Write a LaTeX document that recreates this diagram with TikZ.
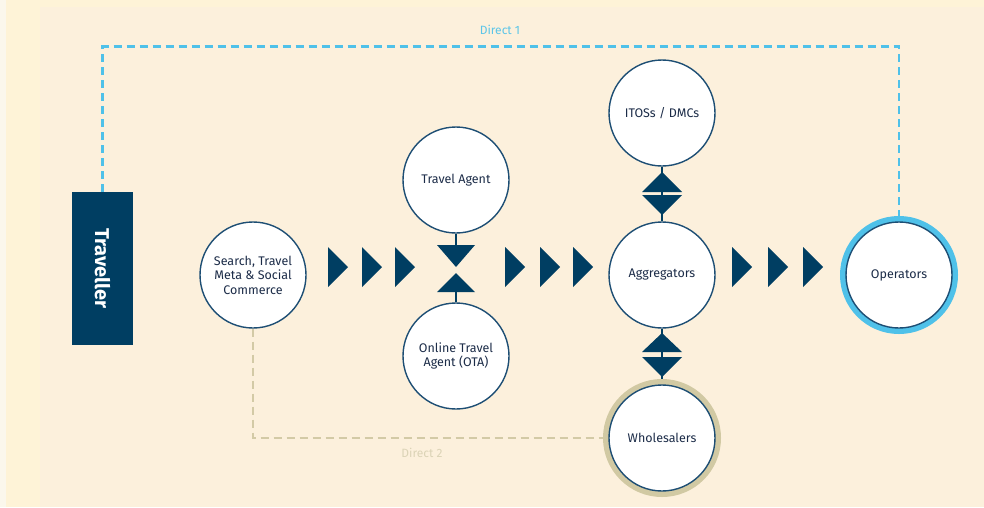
\documentclass[tikz,border=0pt]{standalone}
\usepackage{fontspec}
\setmainfont{Fira Sans}
\usepackage{xcolor}
\usetikzlibrary{positioning}
\usetikzlibrary{arrows,calc}

\definecolor{navy}{HTML}{003E62}
\definecolor{rim}{HTML}{1D4E74}
\definecolor{inktext}{HTML}{1C2C48}
\definecolor{skyline}{HTML}{4FC1E9}
\definecolor{skytext}{HTML}{5BC5E8}
\definecolor{khaki}{HTML}{D1C9A3}
\definecolor{khakiline}{HTML}{D3CAA6}
\definecolor{khakitext}{HTML}{DBD3B6}
\definecolor{outerbg}{HTML}{FEF3D7}
\definecolor{panelbg}{HTML}{FCF0DC}
\definecolor{edgebg}{HTML}{FBF7EC}

\tikzset{
  bubble/.style={circle, draw=rim, line width=1.4pt, fill=white, minimum size=106pt, inner sep=0pt,
    align=center, font=\fontsize{12.5}{14.5}\selectfont, text=inktext},
  ring/.style={circle, line width=7pt, minimum size=111pt, inner sep=0pt},
  direct1/.style={draw=skyline, line width=2.8pt, dash pattern=on 8pt off 5pt},
  direct2/.style={draw=khakiline, line width=2.8pt, dash pattern=on 8pt off 5pt},
  stem/.style={draw=navy, line width=1.6pt},
}

\begin{document}
\begin{tikzpicture}[x=1pt,y=-1pt]
% background
\fill[outerbg] (0,0) rectangle (984,507);
\fill[edgebg] (0,0) rectangle (6,507);
\fill[panelbg] (40,7) rectangle (984,507);
\useasboundingbox (0,0) rectangle (984,507);

\node[fill=navy, minimum width=61pt, minimum height=153pt, inner sep=0pt] (trav) at (102.5,268.5) {};
\node[rotate=-90, text=white, font=\fontsize{20}{20}\bfseries] at (trav) {Traveller};

\node[bubble] (search) at (253,275) {Search, Travel\\Meta \& Social\\Commerce};
\node[bubble] (agent) at (456,180) {Travel Agent};
\node[bubble] (ota) at (456,356) {Online Travel\\Agent (OTA)};
\node[bubble] (aggr) at (662,275) {Aggregators};
\node[bubble] (itos) at (662,113) {ITOSs / DMCs};
\node[ring, draw=skyline] (operring) at (899,275) {};
\node[bubble] (oper) at (operring) {Operators};
\node[ring, draw=khaki] (wholering) at (662,438) {};
\node[bubble] (whole) at (wholering) {Wholesalers};

% direct routes
\draw[direct1] (trav.north) -- ++(0,-145) -| (operring.north);
\node[text=skytext, font=\fontsize{12}{12}\selectfont] (d1) at (500,30) {Direct 1};
\draw[direct2] (search.south) |- (wholering.west);
\node[text=khakitext, font=\fontsize{12}{12}\selectfont] (d2) at (422,453) {Direct 2};

% flow arrows
\foreach \x in {328,362,395,505,540,573,732,768,803}
  \fill[navy] (\x,247) -- ++(20,20) -- ++(-20,20) -- cycle;

% agent / ota
\draw[stem] (agent.south) -- (456,246);
\draw[stem] (ota.north) -- (456,291);
\fill[navy] (437,245) -- (475,245) -- (456,267) -- cycle;
\fill[navy] (437,292) -- (475,292) -- (456,273) -- cycle;

% aggregator links
\draw[stem] (itos.south) -- (aggr.north);
\draw[stem] (aggr.south) -- (wholering.north);
\fill[navy] (642,192) -- (682,192) -- (662,172) -- cycle;
\fill[navy] (642,195) -- (682,195) -- (662,215) -- cycle;
\fill[navy] (642,352) -- (682,352) -- (662,333) -- cycle;
\fill[navy] (642,357) -- (682,357) -- (662,377) -- cycle;
\end{tikzpicture}
\end{document}
